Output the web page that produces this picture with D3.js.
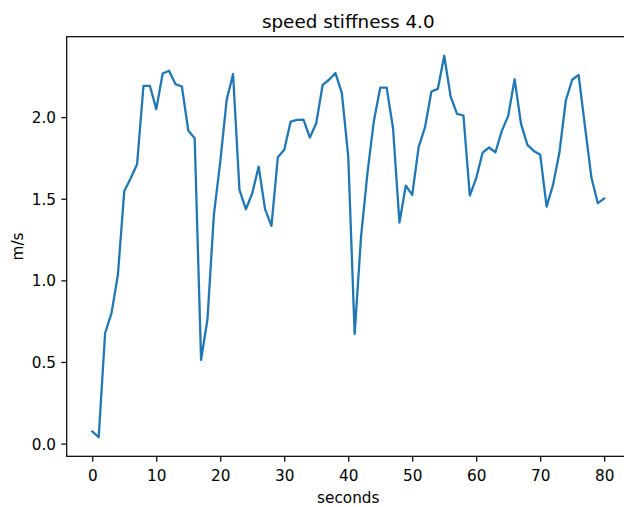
<!DOCTYPE html>
<html>
<head>
<meta charset="utf-8">
<script src="https://cdn.jsdelivr.net/npm/d3@7"></script>
<style>
  body { margin: 0; background: #fff; }
  svg { display: block; font-family: "DejaVu Sans", sans-serif; }
</style>
</head>
<body>
<script>
const title = 'speed stiffness 4.0'
const xLabel = 'seconds'
const yLabel = 'm/s'

// one reading per second, 0..80
const seconds = d3.range(0, 81)
const speed = [
  0.074, 0.039, 0.676, 0.799, 1.034, 1.548, 1.626, 1.712, 2.192, 2.192,
  2.049, 2.267, 2.284, 2.202, 2.188, 1.918, 1.871, 0.513, 0.762, 1.401,
  1.728, 2.106, 2.263, 1.555, 1.436, 1.534, 1.697, 1.436, 1.334, 1.755,
  1.800, 1.973, 1.983, 1.985, 1.875, 1.963, 2.198, 2.229, 2.270, 2.147,
  1.759, 0.672, 1.268, 1.657, 1.975, 2.181, 2.181, 1.932, 1.354, 1.581,
  1.524, 1.816, 1.939, 2.157, 2.173, 2.376, 2.126, 2.020, 2.010, 1.520,
  1.626, 1.783, 1.814, 1.785, 1.916, 2.008, 2.233, 1.959, 1.830, 1.793,
  1.769, 1.452, 1.585, 1.783, 2.102, 2.229, 2.259, 1.942, 1.630, 1.473,
  1.501
]
const xTicks = [0, 10, 20, 30, 40, 50, 60, 70, 80]
const yTicks = [0.0, 0.5, 1.0, 1.5, 2.0]

const width = 624
const height = 507
const pt = 110 / 72 // figure was saved at ~110 dpi
// axes box (right edge runs past the window, as in the original)
const box = { left: 66.7, right: 629.8, top: 36.7, bottom: 456.3 }

// matplotlib style 5% margins
function padded(ext) {
  const m = (ext[1] - ext[0]) * 0.05
  return [ext[0] - m, ext[1] + m]
}

const x = d3.scaleLinear().domain(padded(d3.extent(seconds))).range([box.left, box.right])
const y = d3.scaleLinear().domain(padded(d3.extent(speed))).range([box.bottom, box.top])

const svg = d3.select('body').append('svg')
  .attr('width', width)
  .attr('height', height)

svg.append('rect').attr('width', width).attr('height', height).attr('fill', '#fff')

const line = d3.line()
  .x((d, i) => x(seconds[i]))
  .y(d => y(d))

svg.append('path')
  .datum(speed)
  .attr('d', line)
  .attr('fill', 'none')
  .attr('stroke', '#1f77b4')
  .attr('stroke-width', 1.5 * pt)
  .attr('stroke-linejoin', 'round')
  .attr('stroke-linecap', 'square')

const tickLen = 3.5 * pt
const xAxis = svg.append('g')
  .attr('transform', `translate(0, ${box.bottom})`)
  .call(d3.axisBottom(x).tickValues(xTicks).tickSize(tickLen).tickPadding(tickLen).tickFormat(d3.format('d')))
const yAxis = svg.append('g')
  .attr('transform', `translate(${box.left}, 0)`)
  .call(d3.axisLeft(y).tickValues(yTicks).tickSize(tickLen).tickPadding(tickLen).tickFormat(d3.format('.1f')))

for (const ax of [xAxis, yAxis]) {
  ax.select('.domain').remove()
  ax.selectAll('.tick line').attr('stroke', '#000').attr('stroke-width', 0.8 * pt)
  ax.selectAll('.tick text')
    .attr('fill', '#000')
    .style('font-family', '"DejaVu Sans", sans-serif')
    .style('font-size', (10 * pt) + 'px')
}
xAxis.selectAll('.tick text').attr('dy', null).attr('y', 24.4)
yAxis.selectAll('.tick text').attr('dy', '0.36em')

// spines
svg.append('rect')
  .attr('x', box.left)
  .attr('y', box.top)
  .attr('width', box.right - box.left)
  .attr('height', box.bottom - box.top)
  .attr('fill', 'none')
  .attr('stroke', '#000')
  .attr('stroke-width', 0.8 * pt)

svg.append('text')
  .attr('x', (box.left + box.right) / 2)
  .attr('y', 28.3)
  .attr('text-anchor', 'middle')
  .style('font-size', (12 * pt) + 'px')
  .text(title)

svg.append('text')
  .attr('x', (box.left + box.right) / 2)
  .attr('y', 503.3)
  .attr('text-anchor', 'middle')
  .style('font-size', (10 * pt) + 'px')
  .text(xLabel)

svg.append('text')
  .attr('transform', `translate(23.3, ${(box.top + box.bottom) / 2}) rotate(-90)`)
  .attr('text-anchor', 'middle')
  .style('font-size', (10 * pt) + 'px')
  .text(yLabel)
</script>
</body>
</html>
